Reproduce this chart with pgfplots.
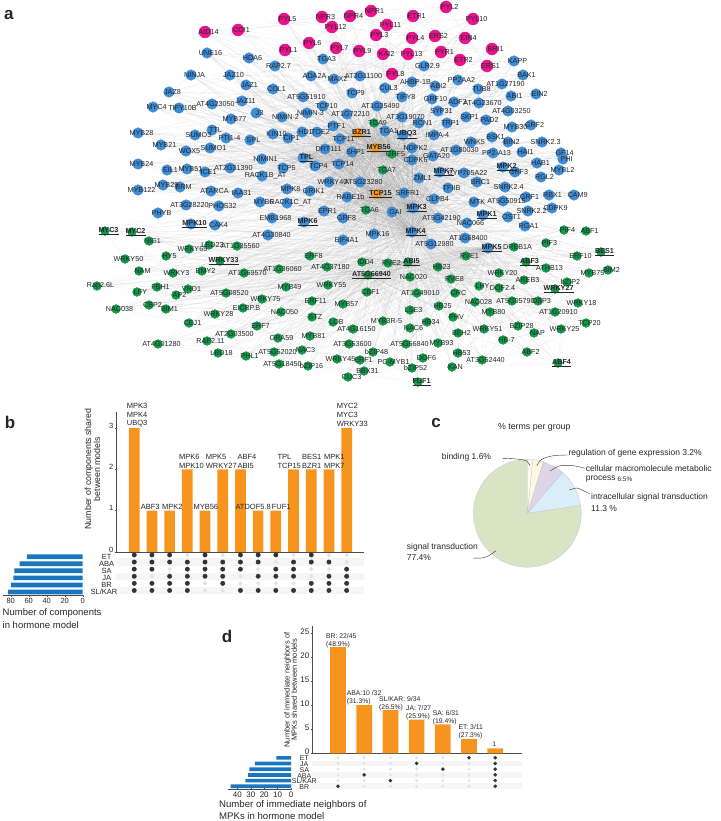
\documentclass[border=0pt]{standalone}
\usepackage{fontspec}
\setmainfont{Liberation Sans}
\usepackage{pgfplots}
\usepackage{pgfplotstable}
\pgfplotsset{compat=1.18}
\definecolor{cpink}{HTML}{E9148C}
\definecolor{cblue}{HTML}{3F8DD6}
\definecolor{cgreen}{HTML}{109A4A}
\definecolor{corange}{HTML}{F7941E}
\definecolor{cbar}{HTML}{F7941E}
\definecolor{hbar}{HTML}{1A76BE}
\definecolor{stripe}{HTML}{F5F6F6}
\definecolor{dotd}{HTML}{333333}
\definecolor{dotl}{HTML}{E2E3E3}
\protected\def\U#1{\textbf{\underline{#1}}}
\newcommand\fs[1]{\fontsize{#1}{#1}\selectfont}
\pgfplotstableread{
x y label
205 32 AtD14
238 30 COI1
284 19 PYL5
322 17 NPR3
350 16 NPR4
332 27 PYL12
371 11 NPR1
387 25 PYL11
413 16 ETR1
446 7 PYL2
473 19 PYL10
376 35 PYL3
412 38 PYL4
435 36 ERS2
465 38 EIN4
492 49 BRI1
460 60 ETR2
487 66 ERS1
441 52 PYR1
408 54 PYL13
383 54 KAI2
359 51 PYL9
336 48 PYL7
309 43 PYL6
285 50 PYL1
392 74 PYL8
}\tpink
\pgfplotstableread{
x y label
207 53 UNE16
249 58 HDA6
275 66 RAP2.7
323 59 TGA3
311 76 ADA2A
334 79 MAX2
360 76 AT3G11100
191 75 NINJA
230 75 JAZ10
246 85 JAZ1
273 89 COL1
169 92 JAZ8
242 101 JAZ11
212 104 AT4G23050
303 97 AT5G51910
153 107 MYC4
179 108 TIFY10B
256 113 J3
323 106 TCP10
352 93 TCP9
385 88 CUL3
402 97 TIFY8
412 82 AHBP-1B
424 66 GLR2.9
377 106 AT1G35490
282 117 NIMIN-2
307 113 NIMIN-3
347 114 AT1G72210
231 119 MYB77
333 126 PTF1
212 130 TTL
138 133 MYB28
195 135 SUMO3
226 138 PTI1-4
250 140 SPL
273 134 KIN10
288 138 CIP1
302 132 HD1
317 132 TOE2
340 139 TCP11
161 145 MYB21
186 151 WOX5
210 148 SUMO1
325 149 DRT111
352 152 SHP1
262 159 NIMIN1
303 158 \U{TPL}
315 166 TCP4
339 164 TCP14
283 168 TCP5
262 176 RACK1B\_AT
138 164 MYB24
167 170 EIL1
187 169 MYB51
205 172 ICE1
230 168 AT2G31390
163 185 MYB29
180 187 BRM
138 190 MYB122
211 191 ATARCA
238 193 IAA31
287 189 MPK8
310 191 GRIK1
329 182 WRKY40
360 182 AT5G23280
347 197 RABE1b
287 203 RACK1C\_AT
186 205 AT3G28220
219 206 PHOS32
260 202 MYB6
324 211 EPR1
343 218 GRF8
158 213 PHYB
272 218 EMB1968
191 224 \U{MPK10}
215 225 CAK4
304 222 \U{MPK6}
268 235 AT4G30840
343 240 EIF4A1
374 234 MPK16
413 208 \U{MPK3}
412 232 \U{MPK4}
392 212 GAI
438 218 AT5G42190
431 244 AT5G12980
483 215 \U{MPK1}
474 202 MTK
503 201 AT5G50915
508 217 OST1
467 223 NAC066
528 211 SNRK2.2
552 208 CDPK9
525 226 RGA1
526 197 GRF1
549 195 RBX1
574 195 CAM9
465 238 AT1G68400
488 248 \U{MPK5}
404 193 SRFR1
434 199 CLPB4
448 188 TFIIB
477 182 BRC1
419 178 ZML1
440 172 \U{MPK7}
464 173 CYP705A22
503 167 \U{MPK2}
515 172 GRF3
541 177 RGL2
505 187 SNRK2.4
537 163 HAB1
559 170 MYBL2
522 152 HAI1
561 153 GF14
563 159 PHI
542 142 SNRK2.3
508 142 BIN2
492 137 BSK1
471 142 WNK5
493 153 PP2-A13
456 150 AT1G80030
433 156 GATA20
412 160 CDPK6
412 148 NDPK2
531 125 GRF2
512 127 MYB30
486 120 PAD2
447 123 TRP1
466 117 SKP1
419 123 RCN1
402 117 AT3G19070
434 135 IMPA-4
385 131 TGA1
403 135 \U{UBQ3}
438 111 SYP31
454 102 ADF3
432 99 GRF10
479 103 AT4G23670
508 111 AT4G03250
511 96 ABI1
478 89 TUB8
435 86 ABI2
458 80 PP2AA2
502 84 AT1G27190
536 94 EIN2
523 75 BAK1
514 61 KAPP
}\tblue
\pgfplotstableread{
x y label
374 123 TGA9
392 154 GRF5
383 170 TGA7
366 210 TGA6
105 231 \U{MYC3}
132 232 \U{MYC2}
149 241 NIG1
189 249 WRKY65
209 245 LBD23
237 246 AT1G35560
166 256 HY5
310 256 ERF8
125 259 WRKY50
220 261 \U{WRKY33}
139 271 NAM
173 273 WRKY3
202 271 BMY2
244 273 AT1G69570
279 269 AT1G36060
327 267 AT4G37180
328 285 WRKY55
97 286 Rap2.6L
157 287 FBH1
188 289 VND1
286 287 MYB49
137 292 LFY
176 295 AP2
226 293 AT5G08520
262 299 WRKY75
312 301 ERF11
343 304 MYB57
116 309 NAC038
149 305 CBP2
166 309 BIM1
243 308 EICBP.B
281 312 NAC050
215 314 WRKY28
312 317 STZ
333 322 LOB
189 323 CEJ1
257 326 ERF7
353 329 AT4G16150
231 334 AT2G03500
278 338 ORA59
310 336 MYB81
158 344 AT4G01280
207 341 RAP2.11
349 344 AT3G53600
302 350 NAC3
218 353 LBD18
246 356 PHL1
274 352 AT5G52020
337 359 WRKY45
279 364 AT5G18450
308 366 bZIP16
348 377 CUC3
360 360 ERF1
364 371 BBX31
373 352 bZIP48
390 362 PC-MYB1
412 368 bZIP52
418 382 \U{FUF1}
423 358 DOF6
438 343 MYB93
406 344 AT5G56840
410 328 NAC6
383 321 MYB3R-5
427 322 HB34
410 310 LSE3
439 306 HB25
417 293 AT1G49010
367 292 CBF1
368 275 \U{AT5G66940}
362 262 IDD4
388 263 RVE2
408 262 \U{ABI5}
410 277 NAC020
438 267 HB23
451 279 RVE8
455 293 CRC
479 286 LHY
475 302 NAC028
499 288 DOF2.4
499 273 WRKY20
524 280 AREB3
526 262 \U{ABF3}
546 268 ATHB13
490 312 MYB80
512 301 AT5G05790
538 301 DBP3
555 289 \U{WRKY27}
567 282 bZIP2
589 273 MYB75
608 270 BIM2
578 303 WRKY18
555 312 AT1G20910
586 323 TCP20
561 329 WRKY25
534 333 NAP
518 326 BZIP28
484 329 WRKY51
503 340 HB-7
458 333 BEH2
453 317 PHV
527 352 ABF2
558 363 \U{ABF4}
458 353 HB53
482 360 AT3G52440
452 367 KAN
466 256 RVE1
514 247 DREB1A
546 243 PIF3
564 230 PIF4
586 231 ABF1
601 252 \U{BES1}
577 256 ERF10
}\tgreen
\pgfplotstableread{
x y label
358 133 \U{BZR1}
375 148 \U{MYB56}
377 194 \U{TCP15}
}\torange
\pgfplotstableread{
x y
323 106
333 126
340 139
325 149
352 152
339 164
315 166
329 182
360 182
347 197
324 211
343 218
366 210
392 212
374 234
343 240
404 193
419 178
412 160
412 148
403 135
385 131
374 123
347 114
377 106
402 117
419 123
434 135
433 156
440 172
434 199
438 218
431 244
303 158
304 222
}\tcore
\def\PP{(\xx,\yy)}
\newcommand\edgesfor[2]{%
 \pgfplotstablegetrowsof{#1}\edef\nn{\pgfplotsretval}%
 \pgfmathtruncatemacro\lastrow{\nn-1}%
 \pgfplotsforeachungrouped \i in {0,...,\lastrow}{%
  \pgfplotstablegetelem{\i}{x}\of{#1}\edef\xx{\pgfplotsretval}%
  \pgfplotstablegetelem{\i}{y}\of{#1}\edef\yy{\pgfplotsretval}%
  \pgfmathtruncatemacro\ja{mod(\i+3,\nn)}%
  \pgfmathtruncatemacro\jb{mod(\i+8,\nn)}%
  \pgfplotstablegetelem{\ja}{x}\of{#1}\edef\ax{\pgfplotsretval}%
  \pgfplotstablegetelem{\ja}{y}\of{#1}\edef\ay{\pgfplotsretval}%
  \pgfplotstablegetelem{\jb}{x}\of{#1}\edef\bx{\pgfplotsretval}%
  \pgfplotstablegetelem{\jb}{y}\of{#1}\edef\by{\pgfplotsretval}%
  \edef\tmp{\noexpand\addplot[edge] coordinates {\PP #2 (\ax,\ay)\PP(\bx,\by)\PP};}\tmp
 }}
\pgfplotsset{
 px/.style={at={(0pt,0pt)},anchor=south west,width=720pt,height=821pt,scale only axis,
   xmin=0,xmax=720,ymin=0,ymax=821,y dir=reverse,hide axis,clip=false},
 edge/.style={forget plot,no markers,line width=.14pt,color=gray!85,opacity=.23},
 lbl/.style={only marks,mark=*,mark size=0pt,mark options={draw opacity=0,fill opacity=0},point meta=explicit symbolic,
   nodes near coords={\pgfplotspointmeta},
   nodes near coords style={anchor=center,inner sep=0pt,xshift=3.5pt,font=\fs{7.2},text=black!85,text opacity=1,opacity=1}},
 dotm/.style={only marks,mark=*,mark size=#1,mark options={line width=0pt}},
 noarrow/.style={x axis line style={-},y axis line style={-}},
 chart/.style={scale only axis,enlargelimits=false,axis line style={color=black!70,line width=.5pt},
   tick style={color=black!70,line width=.4pt},tick align=outside,
   /pgf/number format/assume math mode=true,/pgf/number format/1000 sep={},
   major tick length=2pt,
   tick label style={font=\fs{7.5},text=black!85,inner sep=1.5pt}},
}
\newcommand\tw[4][7.5]{\node[anchor=west,inner sep=0pt,font=\fs{#1},text=black!85] at (axis cs:#2,#3) {#4};}
\newcommand\tc[4][7.5]{\node[anchor=center,inner sep=0pt,font=\fs{#1},text=black!85] at (axis cs:#2,#3) {#4};}
\begin{document}
\begin{tikzpicture}[x=1pt,y=1pt]
\useasboundingbox (0pt,0pt) rectangle (720pt,821pt);
% ---------- network ----------
\begin{axis}[px]
\edgesfor{\tpink}{(358,133)\PP(385,131)\PP(334,79)\PP(375,148)\PP(413,208)\PP}
\edgesfor{\tblue}{(413,208)\PP(412,232)\PP(377,194)\PP(358,133)\PP(375,148)\PP(303,158)\PP(392,154)\PP}
\edgesfor{\tgreen}{(413,208)\PP(412,232)\PP(377,194)\PP(488,248)\PP(368,275)\PP(408,262)\PP}
\edgesfor{\tcore}{(413,208)\PP(412,232)\PP(377,194)\PP(358,133)\PP(375,148)\PP(392,154)\PP(383,170)\PP(366,210)\PP(352,152)\PP(339,164)\PP(404,193)\PP(385,131)\PP}
\addplot[dotm=6pt,mark options={draw=cpink,fill=cpink}] table[x=x,y=y] {\tpink};
\addplot[dotm=5.3pt,mark options={draw=cblue,fill=cblue}] table[x=x,y=y] {\tblue};
\addplot[dotm=4.4pt,mark options={draw=cgreen,fill=cgreen}] table[x=x,y=y] {\tgreen};
\addplot[dotm=5pt,mark options={draw=corange,fill=corange}] table[x=x,y=y] {\torange};
\addplot[lbl] table[x=x,y=y,meta=label] {\tpink};
\addplot[lbl] table[x=x,y=y,meta=label] {\tblue};
\addplot[lbl] table[x=x,y=y,meta=label] {\tgreen};
\addplot[lbl] table[x=x,y=y,meta=label] {\torange};
\end{axis}
% ---------- panel b ----------
\begin{axis}[chart,at={(116pt,269pt)},anchor=south west,width=248pt,height=140pt,
  xmin=-1.03,xmax=12.98,ymin=0,ymax=3.39,axis x line=bottom,axis y line=left,noarrow,
  xtick=\empty,ytick={0,1,2,3},ybar,bar width=10.7pt,bar shift=0pt,
  yticklabel style={yshift=2.5pt}]
\addplot[fill=cbar,draw=none] coordinates {(0,3)(1,1)(2,1)(3,2)(4,1)(5,2)(6,2)(7,1)(8,1)(9,2)(10,2)(11,2)(12,3)};
\end{axis}
\begin{axis}[px,at={(116pt,227pt)},anchor=south west,width=248pt,height=42.6pt,
  xmin=-1.03,xmax=12.98,ymin=-.5,ymax=5.5,y dir=normal]
\addplot[fill=stripe,draw=none] coordinates {(-1.03,-.5)(12.98,-.5)(12.98,.5)(-1.03,.5)} --cycle;
\addplot[fill=stripe,draw=none] coordinates {(-1.03,1.5)(12.98,1.5)(12.98,2.5)(-1.03,2.5)} --cycle;
\addplot[fill=stripe,draw=none] coordinates {(-1.03,3.5)(12.98,3.5)(12.98,4.5)(-1.03,4.5)} --cycle;
\addplot[dotm=1.9pt,mark options={draw=dotl,fill=dotl}] coordinates {
 (3,5)(5,5)(9,5)(11,5)(12,5)(8,4)(12,4)(2,3)(7,3)(10,3)(11,3)(1,2)(6,2)(10,2)
 (4,1)(6,1)(7,1)(8,1)(9,1)(4,0)(5,0)};
\addplot[dotm=2.2pt,mark options={draw=dotd,fill=dotd}] coordinates {
 (0,5)(1,5)(2,5)(4,5)(6,5)(7,5)(8,5)(10,5)
 (0,4)(1,4)(2,4)(3,4)(4,4)(5,4)(6,4)(7,4)(9,4)(10,4)(11,4)
 (0,3)(1,3)(3,3)(4,3)(5,3)(6,3)(8,3)(9,3)(12,3)
 (0,2)(2,2)(3,2)(4,2)(5,2)(7,2)(8,2)(9,2)(11,2)(12,2)
 (0,1)(1,1)(2,1)(3,1)(5,1)(10,1)(11,1)(12,1)
 (0,0)(1,0)(2,0)(3,0)(6,0)(7,0)(8,0)(9,0)(10,0)(11,0)(12,0)};
\end{axis}
\begin{axis}[chart,at={(3pt,225.3pt)},anchor=south west,width=81pt,height=42.7pt,
  x dir=reverse,xmin=-1.4,xmax=88.6,ymin=-.52,ymax=5.52,axis x line=bottom,axis y line=none,noarrow,
  xtick={0,20,40,60,80},xbar,bar width=4.7pt,bar shift=0pt]
\addplot[fill=hbar,draw=none] coordinates {(83,0)(79.5,1)(77,2)(76,3)(70,4)(62,5)};
\end{axis}
% ---------- panel c ----------
\begin{axis}[px,at={(473.3pt,253.7pt)},anchor=south west,width=108pt,height=108pt,
  xmin=-1,xmax=1,ymin=-1,ymax=1,y dir=normal]
\addplot[fill={rgb,255:red,215;green,229;blue,197},draw=black!22,line width=.3pt] coordinates {(0,0)(.989,.150)(1,0)(.991,-.131)(.966,-.259)(.924,-.383)(.866,-.5)(.793,-.609)(.707,-.707)(.609,-.793)(.5,-.866)(.383,-.924)(.259,-.966)(.131,-.991)(0,-1)(-.131,-.991)(-.259,-.966)(-.383,-.924)(-.5,-.866)(-.609,-.793)(-.707,-.707)(-.793,-.609)(-.866,-.5)(-.924,-.383)(-.966,-.259)(-.991,-.131)(-1,0)(-.991,.131)(-.966,.259)(-.924,.383)(-.866,.5)(-.793,.609)(-.707,.707)(-.609,.793)(-.5,.866)(-.383,.924)(-.259,.966)(-.131,.991)(0,1)} --cycle;
\addplot[fill={rgb,255:red,217;green,238;blue,248},draw=black!22,line width=.3pt] coordinates {(0,0)(.989,.150)(.940,.342)(.866,.5)(.766,.643)(.652,.758)} --cycle;
\addplot[fill={rgb,255:red,221;green,213;blue,232},draw=black!22,line width=.3pt] coordinates {(0,0)(.652,.758)(.5,.866)(.297,.955)} --cycle;
\addplot[fill={rgb,255:red,253;green,248;blue,225},draw=black!22,line width=.3pt] coordinates {(0,0)(.297,.955)(.169,.985)(.101,.995)} --cycle;
\addplot[fill={rgb,255:red,254;green,253;blue,244},draw=black!22,line width=.3pt] coordinates {(0,0)(.101,.995)(0,1)} --cycle;
\end{axis}
% ---------- panel d ----------
\begin{axis}[chart,at={(312pt,67.7pt)},anchor=south west,width=209.7pt,height=127.3pt,
  xmin=-.992,xmax=7.01,ymin=0,ymax=26.4,axis x line=bottom,axis y line=left,noarrow,
  xtick=\empty,ytick={0,5,10,15,20,25},ybar,bar width=15.7pt,bar shift=0pt,
  tick label style={font=\fs{8}},yticklabel style={yshift=1.5pt}]
\addplot[fill=cbar,draw=none] coordinates {(0,22)(1,10)(2,9)(3,7)(4,6)(5,3)(6,1)};
\end{axis}
\begin{axis}[px,at={(312pt,31.84pt)},anchor=south west,width=209.7pt,height=34.32pt,
  xmin=-.992,xmax=7.01,ymin=-.5,ymax=5.5,y dir=normal]
\addplot[fill=stripe,draw=none] coordinates {(-.992,-.5)(7.01,-.5)(7.01,.5)(-.992,.5)} --cycle;
\addplot[fill=stripe,draw=none] coordinates {(-.992,1.5)(7.01,1.5)(7.01,2.5)(-.992,2.5)} --cycle;
\addplot[fill=stripe,draw=none] coordinates {(-.992,3.5)(7.01,3.5)(7.01,4.5)(-.992,4.5)} --cycle;
\addplot[dotm=1.3pt,mark options={draw=dotl,fill=dotl}] coordinates {
 (0,5)(1,5)(2,5)(3,5)(4,5)(0,4)(1,4)(2,4)(4,4)(5,4)(0,3)(1,3)(2,3)(3,3)(5,3)
 (0,2)(2,2)(3,2)(4,2)(5,2)(0,1)(1,1)(3,1)(4,1)(5,1)(1,0)(2,0)(3,0)(4,0)(5,0)};
\addplot[dotm=1.6pt,mark options={draw=dotd,fill=dotd}] coordinates {
 (5,5)(6,5)(3,4)(6,4)(4,3)(6,3)(1,2)(6,2)(2,1)(6,1)(0,0)(6,0)};
\end{axis}
\begin{axis}[chart,at={(228.3pt,31.7pt)},anchor=south west,width=63.4pt,height=34.4pt,
  x dir=reverse,xmin=-.5,xmax=46.8,ymin=-.52,ymax=5.52,axis x line=bottom,axis y line=none,noarrow,
  xtick={0,10,20,30,40},xbar,bar width=3.7pt,bar shift=0pt,tick label style={font=\fs{8}}]
\addplot[fill=hbar,draw=none] coordinates {(45,0)(34,1)(32,2)(31,3)(27,4)(11,5)};
\end{axis}
% ---------- text overlay ----------
\begin{axis}[px]
\tc[17]{9}{15}{\textbf{a}}
\tc[17]{10}{422}{\textbf{b}}
\tc[17]{436}{423}{\textbf{c}}
\tc[17]{227}{636}{\textbf{d}}
% b labels
\tw{126.7}{405.7}{MPK3}\tw{126.7}{414.7}{MPK4}\tw{126.7}{423.7}{UBQ3}
\tw{140.7}{507.3}{ABF3}\tw{162}{507.3}{MPK2}
\tw{179}{456.7}{MPK6}\tw{179}{465.7}{MPK10}
\tw{193.3}{507.3}{MYB56}
\tw{205.7}{456.7}{MPK5}\tw{205.7}{465.7}{WRKY27}
\tw{237.3}{456.7}{ABF4}\tw{237.3}{465.7}{ABI5}
\tw{235.3}{507.3}{ATDOF5.8}\tw{271.7}{507.3}{FUF1}
\tw{277.3}{456.7}{TPL}\tw{277.3}{465.7}{TCP15}
\tw{302}{456.7}{BES1}\tw{302}{465.7}{BZR1}
\tw{324}{456.7}{MPK1}\tw{324}{465.7}{MPK7}
\tw{336.7}{405.7}{MYC2}\tw{336.7}{414.7}{MYC3}\tw{336.7}{423.7}{WRKY33}
\tc{106.7}{556.5}{ET}\tc{106.7}{563.7}{ABA}\tc{106.7}{570.5}{SA}\tc{106.7}{577.5}{JA}\tc{106.7}{584.7}{BR}\tc{104}{592}{SL/KAR}
\node[rotate=90,align=center,inner sep=0pt,font=\fontsize{8.8}{9.2}\selectfont,text=black!85] at (axis cs:92.5,469) {Number of components shared\\between models};
\tw[9.5]{2.5}{613}{Number of components}
\tw[9.5]{2.5}{625.5}{in hormone model}
% c labels
\tc[8.8]{534.3}{427.3}{\% terms per group}
\tw[8.5]{441.7}{457.3}{binding 1.6\%}
\tw[8.5]{568.3}{453.7}{regulation of gene expression 3.2\%}
\tw[8.5]{585.7}{468.3}{cellular macromolecule metabolic}
\tw[8.5]{585.7}{479.3}{process}
\tw[6.5]{617.3}{479}{6.5\%}
\tw[8.5]{591}{497.7}{intracellular signal transduction}
\tw[8.5]{591}{508.7}{11.3 \%}
\tw[8.5]{406.7}{547.3}{signal transduction}
\tw[8.5]{406.7}{557.7}{77.4\%}
\addplot[smooth,black!80,line width=.4pt] coordinates {(502.7,458.3)(516.7,459)(526.7,461)(530,465.7)};
\addplot[smooth,black!80,line width=.4pt] coordinates {(568.3,455)(553.3,455.7)(541.7,459.3)(536.7,466)};
\addplot[smooth,black!80,line width=.4pt] coordinates {(585,468.3)(573.3,465.7)(560,465.7)(550,471)};
\addplot[smooth,black!80,line width=.4pt] coordinates {(590,494)(583.3,490.7)(576.7,488)(569.3,490)};
\addplot[smooth,black!80,line width=.4pt] coordinates {(496,550.7)(488.3,556)(481.7,558)(472.7,558)};
% d labels
\tw[6.8]{326}{635.7}{BR: 22/45}\tw[6.8]{326}{644.3}{(48.9\%)}
\tw[6.8]{346.7}{693.3}{ABA:10 /32}\tw[6.8]{346.7}{701.7}{(31.3\%)}
\tw[6.8]{379}{699.3}{SL/KAR: 9/34}\tw[6.8]{379}{707.7}{(26.5\%)}
\tw[6.8]{406}{708.3}{JA: 7/27}\tw[6.8]{406}{716.7}{(25.9\%)}
\tw[6.8]{432.7}{713.3}{SA: 6/31}\tw[6.8]{432.7}{721.7}{(19.4\%)}
\tw[6.8]{458.3}{727.3}{ET: 3/11}\tw[6.8]{458.3}{735.7}{(27.3\%)}
\tc[6.8]{494.3}{744}{1}
\tc[7]{304.3}{758.3}{ET}\tc[7]{304.3}{764.3}{JA}\tc[7]{304.3}{770}{SA}\tc[7]{304.3}{775.7}{ABA}\tc[7]{304.3}{781}{SL/KAR}\tc[7]{304.3}{787}{BR}
\node[rotate=90,align=center,inner sep=0pt,font=\fontsize{7.5}{7.2}\selectfont,text=black!85] at (axis cs:290.5,690) {Number of immediate neighbors of\\MPKs shared between models};
\tw[9.6]{219}{805}{Number of immediate neighbors of}
\tw[9.6]{219}{816}{MPKs in hormone model}
\end{axis}
\end{tikzpicture}
\end{document}
